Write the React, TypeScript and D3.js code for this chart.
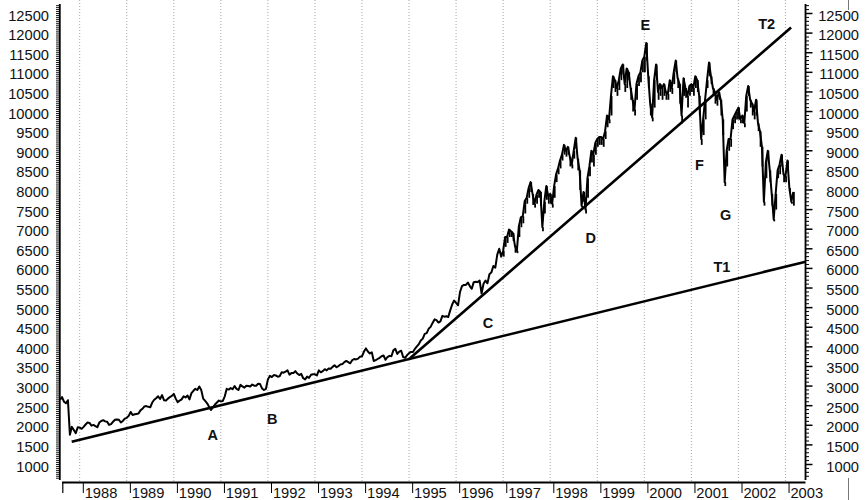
import { useRef, useEffect } from 'react';
import * as d3 from 'd3';

const WIDTH = 865;
const HEIGHT = 500;
const AXIS_TOP = 4;
const AXIS_BOTTOM = 480;
const X_AXIS_Y = 482.5;
const LEFT_AXIS_X = 59.8;
const RIGHT_AXIS_X = 805.5;
const FONT = '"Liberation Sans", Arial, Helvetica, sans-serif';

// DJIA, one value on the 1st and the 16th of each month, from 1 Aug 1987
const FIRST_YEAR = 1987 + 7 / 12;
const DJIA = [
  2650, 2720, 2600, 2560, 2640, 1760, 1960, 1880, 1800, 1950,
  1940, 1910, 1960, 2020, 2070, 2060, 1990, 2010, 1980, 1950, 2070, 2110, 2130, 2100, 2090, 2010, 2030, 2090, 2140, 2150, 2140, 2070, 2110, 2170,
  2190, 2240, 2340, 2260, 2280, 2290, 2300, 2380, 2420, 2480, 2490, 2470, 2460, 2580, 2650, 2690, 2740, 2670, 2770, 2640, 2630, 2680, 2720, 2750,
  2800, 2680, 2590, 2630, 2660, 2740, 2710, 2760, 2660, 2820, 2880, 2930, 2900, 2990, 2900, 2680, 2620, 2560, 2470, 2390, 2460, 2530, 2580, 2630,
  2610, 2620, 2740, 2930, 2910, 2950, 2920, 3000, 2930, 2900, 3030, 2990, 2960, 3010, 3000, 2990, 3040, 3010, 3010, 3060, 3050, 2940, 2900, 2930,
  3170, 3260, 3230, 3280, 3270, 3240, 3250, 3350, 3340, 3370, 3400, 3290, 3330, 3330, 3380, 3320, 3280, 3310, 3200, 3170, 3240, 3210, 3290, 3300,
  3300, 3270, 3400, 3350, 3380, 3430, 3400, 3450, 3440, 3490, 3530, 3480, 3510, 3550, 3560, 3610, 3640, 3610, 3580, 3660, 3690, 3680, 3700, 3750,
  3760, 3880, 3960, 3880, 3830, 3860, 3640, 3660, 3690, 3720, 3760, 3780, 3670, 3740, 3770, 3760, 3910, 3950, 3820, 3880, 3900, 3740, 3720, 3790,
  3840, 3870, 3870, 3950, 4010, 4070, 4160, 4210, 4330, 4350, 4460, 4510, 4610, 4700, 4680, 4620, 4650, 4790, 4770, 4780, 4760, 4930, 5080, 5180,
  5120, 5060, 5400, 5550, 5580, 5580, 5640, 5550, 5480, 5650, 5660, 5650, 5690, 5360, 5610, 5690, 5620, 5850, 5900, 6060, 6020, 6350, 6500, 6300,
  6450, 6800, 6800, 6990, 6950, 6900, 6580, 6450, 7070, 7300, 7330, 7720, 7800, 8050, 8200, 7900, 7650, 7880, 8000, 7950, 7050, 7700, 8100, 7850,
  7900, 7650, 8100, 8400, 8550, 8750, 8900, 9150, 9000, 9100, 8850, 8650, 9000, 9330, 8800, 8500, 7600, 7950, 7500, 8300, 8600, 9000, 8900, 9200,
  9300, 9350, 9350, 9300, 9500, 9900, 9800, 10400, 10900, 10800, 10600, 10800, 11100, 11200, 10700, 11100, 11000, 10600, 10300, 10050, 10700, 10900, 11000, 11300,
  11400, 11750, 10900, 10200, 9850, 10800, 11200, 10500, 10700, 10600, 10700, 10500, 10450, 10800, 10600, 11000, 11300, 10850, 10700, 9900, 10850, 10600, 10400, 10650,
  10700, 10600, 10900, 10800, 10400, 9300, 9800, 10300, 10800, 11250, 10900, 10600, 10500, 10300, 10500, 10300, 9800, 8200, 9000, 9300, 9300, 9800, 9900, 10000,
  10100, 9800, 9900, 9700, 10400, 10650, 10300, 10200, 10000, 10300, 9700, 9500, 9100, 7700, 8700, 9000, 8500, 7900, 7250, 7900, 8500, 8650, 8900, 8400,
  8350, 8750, 8050, 7700, 7950,
];

// half-month lows from Jan 1997 on, where the weekly range makes the line heavy
const LOWS_FROM = 1997;
const DJIA_LOWS = [
  6300, 6550, 6650, 6800, 6800, 6700, 6400, 6390, 6800, 7050, 7150, 7400, 7650, 7800, 7950, 7620, 7550, 7650, 7800, 7600, 6950, 7400, 7750, 7650,
  7650, 7550, 7800, 8200, 8400, 8550, 8750, 8900, 8850, 8900, 8600, 8550, 8800, 9050, 8500, 8000, 7550, 7700, 7400, 7800, 8350, 8700, 8600, 8900,
  9100, 9150, 9150, 9100, 9300, 9600, 9700, 9900, 10600, 10500, 10400, 10550, 10800, 10950, 10500, 10600, 10800, 10300, 10000, 9900, 10300, 10650, 10750, 11000,
  11000, 11300, 10600, 9900, 9750, 10100, 10800, 10300, 10400, 10300, 10400, 10300, 10300, 10500, 10450, 10700, 11000, 10600, 10200, 9700, 10400, 10350, 10100, 10400,
  10500, 10400, 10600, 10500, 9900, 9150, 9400, 9800, 10600, 10900, 10700, 10400, 10200, 10150, 10300, 9900, 9400, 8100, 8600, 9000, 9100, 9550, 9700, 9800,
  9800, 9700, 9700, 9600, 10000, 10400, 10100, 9900, 9800, 9900, 9500, 9100, 8600, 7600, 8300, 8700, 8200, 7600, 7200, 7500, 8300, 8400, 8600, 8200,
  8200, 8500, 7950, 7650, 7600,
];

const YEARS = [1988, 1989, 1990, 1991, 1992, 1993, 1994, 1995, 1996, 1997, 1998, 1999, 2000, 2001, 2002, 2003];
const PRICE_TICKS = [1000, 1500, 2000, 2500, 3000, 3500, 4000, 4500, 5000, 5500, 6000, 6500, 7000, 7500, 8000, 8500, 9000, 9500, 10000, 10500, 11000, 11500, 12000, 12500];

// trend lines, [decimal year, index level]
const TREND_T1 = [[1987.83, 1580], [2003.43, 6170]];
const TREND_T2 = [[1995.02, 3708], [2003.12, 12143]];

const NOTES = [
  { text: 'A', year: 1990.83, value: 1752 },
  { text: 'B', year: 1992.09, value: 2153 },
  { text: 'C', year: 1996.68, value: 4600 },
  { text: 'D', year: 1998.86, value: 6768 },
  { text: 'E', year: 2000.02, value: 12207 },
  { text: 'F', year: 2001.17, value: 8637 },
  { text: 'G', year: 2001.73, value: 7362 },
  { text: 'T1', year: 2001.65, value: 6036 },
  { text: 'T2', year: 2002.6, value: 12232 },
];

export default function App() {
  const svgRef = useRef<SVGSVGElement>(null);

  useEffect(() => {
    const svg = d3.select(svgRef.current);
    svg.selectAll('*').remove();

    const x = d3.scaleLinear().domain([1988, 2003]).range([79.7, 785.45]);
    const y = d3.scaleLinear().domain([1000, 12500]).range([464.5, 13.5]);
    const tAt = (i: number) => FIRST_YEAR + i / 24;

    svg.append('rect').attr('width', WIDTH).attr('height', HEIGHT).attr('fill', '#fff');

    // dotted year grid
    svg.append('g')
      .selectAll('line')
      .data(YEARS)
      .join('line')
      .attr('x1', (d) => x(d))
      .attr('x2', (d) => x(d))
      .attr('y1', 0)
      .attr('y2', X_AXIS_Y)
      .attr('stroke', '#a8a8a8')
      .attr('stroke-width', 1)
      .attr('stroke-dasharray', '1,2');

    const lo = y.invert(AXIS_BOTTOM);
    const hi = y.invert(AXIS_TOP);

    // left axis: dense ticks
    const left = svg.append('g');
    left.selectAll('line')
      .data(d3.range(Math.ceil(lo / 50) * 50, hi, 50))
      .join('line')
      .attr('x1', LEFT_AXIS_X - 3.8)
      .attr('x2', LEFT_AXIS_X)
      .attr('y1', (d) => y(d))
      .attr('y2', (d) => y(d))
      .attr('stroke', '#000')
      .attr('stroke-width', 0.9);
    left.append('line')
      .attr('x1', LEFT_AXIS_X).attr('x2', LEFT_AXIS_X)
      .attr('y1', AXIS_TOP).attr('y2', AXIS_BOTTOM)
      .attr('stroke', '#000').attr('stroke-width', 1.8);
    left.selectAll('text')
      .data(PRICE_TICKS)
      .join('text')
      .attr('x', 49)
      .attr('y', (d) => y(d) + 2)
      .attr('text-anchor', 'end')
      .attr('dominant-baseline', 'central')
      .attr('font-family', FONT)
      .attr('font-size', 14.7)
      .attr('fill', '#111')
      .text((d) => d);

    // right axis
    const right = svg.append('g');
    right.selectAll('line')
      .data(d3.range(Math.ceil(lo / 100) * 100, hi, 100))
      .join('line')
      .attr('x1', RIGHT_AXIS_X)
      .attr('x2', (d) => RIGHT_AXIS_X + (d % 500 === 0 ? 7 : 3.5))
      .attr('y1', (d) => y(d))
      .attr('y2', (d) => y(d))
      .attr('stroke', '#000')
      .attr('stroke-width', (d) => (d % 500 === 0 ? 1.5 : 1));
    right.append('line')
      .attr('x1', RIGHT_AXIS_X).attr('x2', RIGHT_AXIS_X)
      .attr('y1', AXIS_TOP).attr('y2', AXIS_BOTTOM)
      .attr('stroke', '#000').attr('stroke-width', 1.8);
    right.selectAll('text')
      .data(PRICE_TICKS)
      .join('text')
      .attr('x', 859)
      .attr('y', (d) => y(d) + 2)
      .attr('text-anchor', 'end')
      .attr('dominant-baseline', 'central')
      .attr('font-family', FONT)
      .attr('font-size', 14.7)
      .attr('fill', '#111')
      .text((d) => d);

    // bottom axis
    const bottom = svg.append('g');
    bottom.append('line')
      .attr('x1', 62).attr('x2', RIGHT_AXIS_X)
      .attr('y1', X_AXIS_Y).attr('y2', X_AXIS_Y)
      .attr('stroke', '#000').attr('stroke-width', 2);
    bottom.append('line')
      .attr('x1', 62.8).attr('x2', 62.8)
      .attr('y1', X_AXIS_Y).attr('y2', 493)
      .attr('stroke', '#000').attr('stroke-width', 1.2);
    bottom.selectAll('line.tick')
      .data(YEARS)
      .join('line')
      .attr('class', 'tick')
      .attr('x1', (d) => x(d) + 3.6)
      .attr('x2', (d) => x(d) + 3.6)
      .attr('y1', X_AXIS_Y)
      .attr('y2', 493)
      .attr('stroke', '#000')
      .attr('stroke-width', 1);
    bottom.selectAll('text')
      .data(YEARS)
      .join('text')
      .attr('x', (d) => x(d) + 5)
      .attr('y', 497.5)
      .attr('font-family', FONT)
      .attr('font-size', 14.7)
      .attr('fill', '#111')
      .text((d) => d);

    // stray frame marks at the far right
    svg.append('line').attr('x1', 848.5).attr('x2', 848.5).attr('y1', 0).attr('y2', 10)
      .attr('stroke', '#777').attr('stroke-width', 1);
    svg.append('line').attr('x1', 848.5).attr('x2', 848.5).attr('y1', 478).attr('y2', 500)
      .attr('stroke', '#777').attr('stroke-width', 1);

    // trend lines
    const trend = d3.line<number[]>().x((d) => x(d[0])).y((d) => y(d[1]));
    [TREND_T1, TREND_T2].forEach((t) => {
      svg.append('path')
        .attr('d', trend(t))
        .attr('fill', 'none')
        .attr('stroke', '#000')
        .attr('stroke-width', 2.6);
    });

    // price line
    const price = d3.line<number>()
      .x((_, i) => x(tAt(i)))
      .y((d) => y(d));
    svg.append('path')
      .attr('d', price(DJIA))
      .attr('fill', 'none')
      .attr('stroke', '#000')
      .attr('stroke-width', 2)
      .attr('stroke-linejoin', 'round');

    // half-month range bars
    const offset = Math.round((LOWS_FROM - FIRST_YEAR) * 24);
    svg.append('g')
      .selectAll('line')
      .data(DJIA_LOWS)
      .join('line')
      .attr('x1', (_, i) => x(tAt(i + offset)) + 0.6)
      .attr('x2', (_, i) => x(tAt(i + offset)) + 0.6)
      .attr('y1', (d, i) => y(DJIA[i + offset]))
      .attr('y2', (d) => y(d))
      .attr('stroke', '#000')
      .attr('stroke-width', 1.8);

    // letters
    svg.append('g')
      .selectAll('text')
      .data(NOTES)
      .join('text')
      .attr('x', (d) => x(d.year))
      .attr('y', (d) => y(d.value))
      .attr('text-anchor', 'middle')
      .attr('dominant-baseline', 'central')
      .attr('font-family', FONT)
      .attr('font-size', 14.5)
      .attr('font-weight', 'bold')
      .attr('fill', '#111')
      .text((d) => d.text);
  }, []);

  return (
    <svg
      ref={svgRef}
      width={WIDTH}
      height={HEIGHT}
      style={{ position: 'absolute', left: 0, top: 0, display: 'block' }}
    />
  );
}
